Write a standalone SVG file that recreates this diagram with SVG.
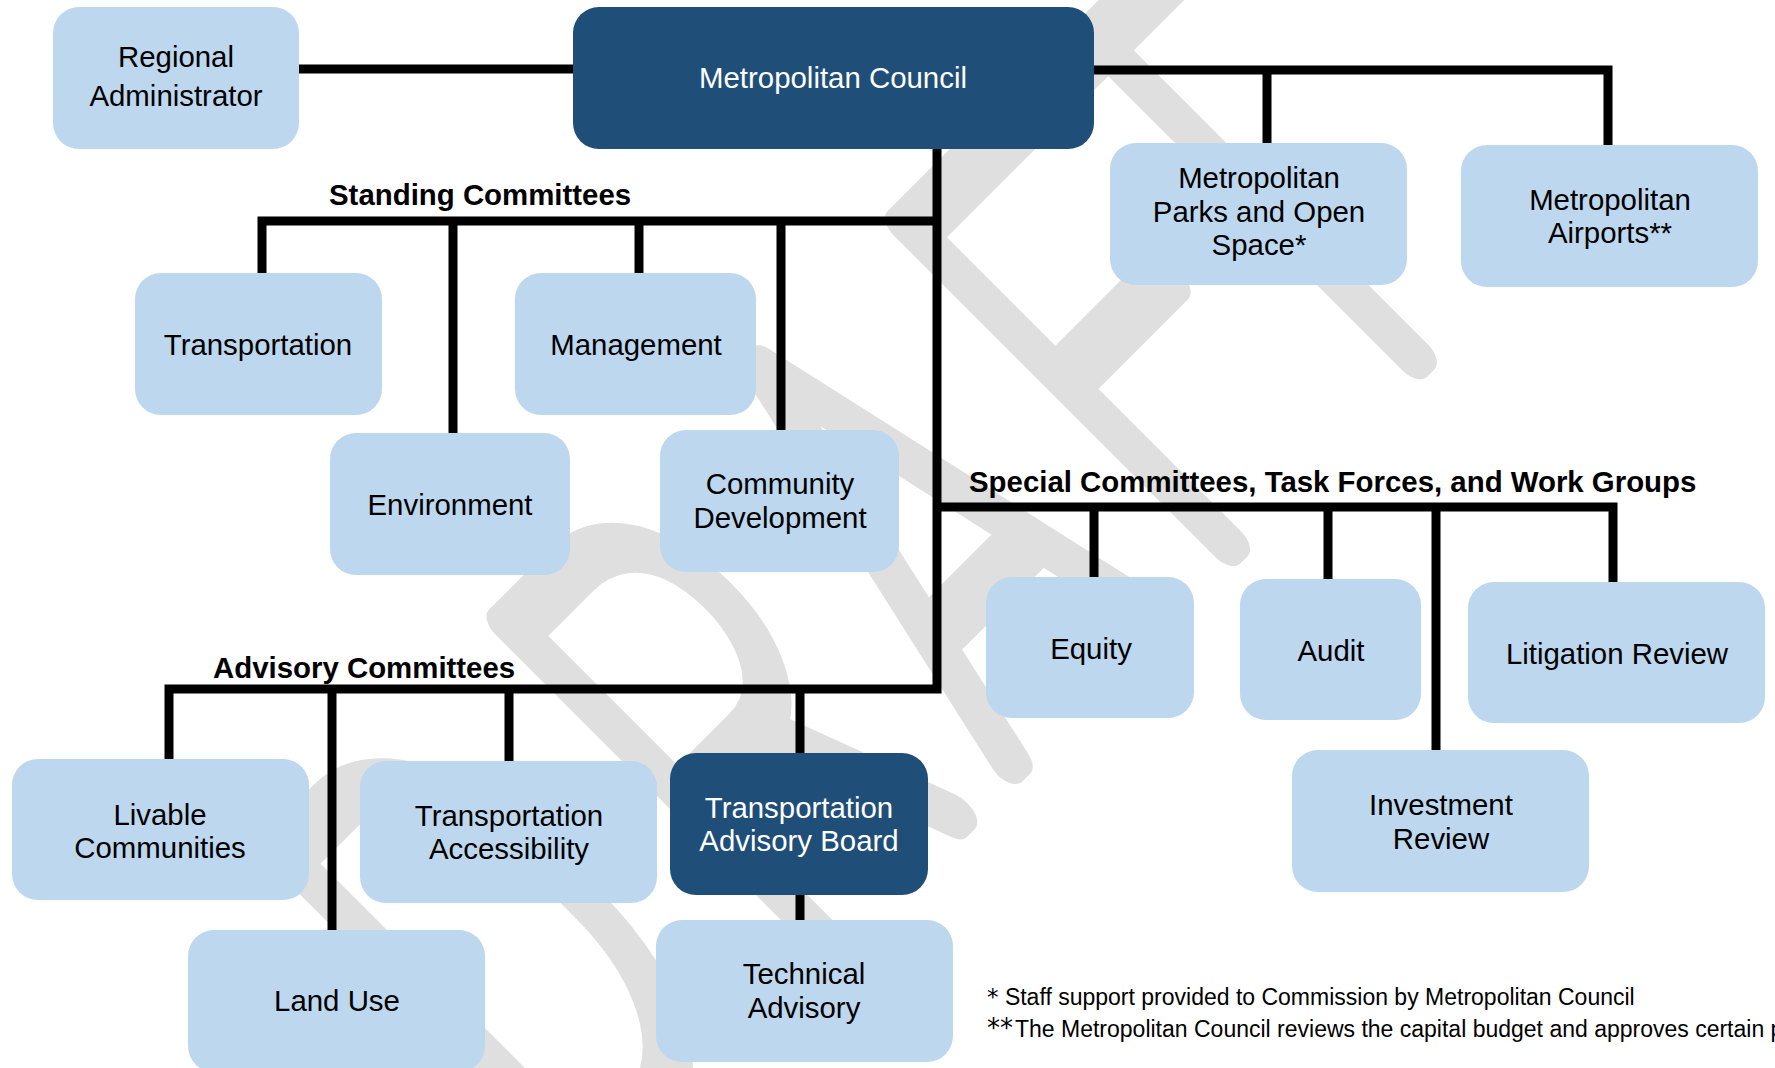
<svg xmlns="http://www.w3.org/2000/svg" width="1775" height="1068" viewBox="0 0 1775 1068">
<style>
.box{fill:#bdd7ee}
.dark{fill:#1f4e79}
.t{font-family:"Liberation Sans",Arial,sans-serif;font-size:29.4px;fill:#000;text-anchor:middle}
.tw{fill:#fff}
.lbl{font-family:"Liberation Sans",Arial,sans-serif;font-size:29.4px;font-weight:bold;fill:#000}
.ln{stroke:#000;stroke-width:9;fill:none;stroke-linejoin:miter}
.fn{font-family:"Liberation Sans",Arial,sans-serif;font-size:23px;fill:#000}
.st{font-family:"DejaVu Sans",sans-serif}
.wm{font-family:Roboto,"DejaVu Sans",sans-serif;font-weight:100;font-size:640px;fill:#dfdfdf;stroke:#dfdfdf;stroke-width:36px;stroke-linejoin:round;stroke-linecap:round;text-anchor:middle}
</style>
<rect width="1775" height="1068" fill="#fff"/>
<g id="watermark" transform="translate(1223,550) rotate(-45)">
<text class="wm" transform="translate(-795,0) scale(0.6,1)" vector-effect="non-scaling-stroke">D</text>
<text class="wm" transform="translate(-472,0) scale(0.6,1)" vector-effect="non-scaling-stroke">R</text>
<text class="wm" transform="translate(-197,0) scale(0.6,1)" vector-effect="non-scaling-stroke">A</text>
<text class="wm" transform="translate(75,0) scale(0.6,1)" vector-effect="non-scaling-stroke">F</text>
<text class="wm" transform="translate(272,0) scale(0.6,1)" vector-effect="non-scaling-stroke">T</text>
</g>
<g id="connectors" class="ln">
<path d="M299,69 H573"/>
<path d="M1094,70 H1608 V145"/>
<path d="M1267,70 V143"/>
<path d="M937,148 V689 H169 V759"/>
<path d="M262,273 V221 H937"/>
<path d="M453,221 V433"/>
<path d="M639,221 V273"/>
<path d="M781,221 V430"/>
<path d="M937,507 H1613 V582"/>
<path d="M1094,507 V577"/>
<path d="M1328,507 V579"/>
<path d="M1436,507 V750"/>
<path d="M332,689 V930"/>
<path d="M509,689 V761"/>
<path d="M800,689 V753"/>
<path d="M800,895 V920"/>
</g>
<g id="labels">
<text class="lbl" x="329" y="205">Standing Committees</text>
<text class="lbl" x="969" y="492">Special Committees, Task Forces, and Work Groups</text>
<text class="lbl" x="213" y="678">Advisory Committees</text>
</g>
<g id="n-regional-administrator"><rect class="box" x="53" y="7" width="246" height="142" rx="26"/><text class="t" x="176" y="67">Regional</text><text class="t" x="176" y="106">Administrator</text></g>
<g id="n-metropolitan-council"><rect class="dark" x="573" y="7" width="521" height="142" rx="26"/><text class="t tw" x="833" y="88">Metropolitan Council</text></g>
<g id="n-parks"><rect class="box" x="1110" y="143" width="297" height="142" rx="26"/><text class="t" x="1259" y="188">Metropolitan</text><text class="t" x="1259" y="222">Parks and Open</text><text class="t" x="1259" y="255">Space*</text></g>
<g id="n-airports"><rect class="box" x="1461" y="145" width="297" height="142" rx="26"/><text class="t" x="1610" y="210">Metropolitan</text><text class="t" x="1610" y="243">Airports**</text></g>
<g id="n-transportation"><rect class="box" x="135" y="273" width="247" height="142" rx="26"/><text class="t" x="258" y="355">Transportation</text></g>
<g id="n-management"><rect class="box" x="515" y="273" width="241" height="142" rx="26"/><text class="t" x="636" y="355">Management</text></g>
<g id="n-environment"><rect class="box" x="330" y="433" width="240" height="142" rx="26"/><text class="t" x="450" y="515">Environment</text></g>
<g id="n-community-development"><rect class="box" x="660" y="430" width="239" height="142" rx="26"/><text class="t" x="780" y="494">Community</text><text class="t" x="780" y="528">Development</text></g>
<g id="n-equity"><rect class="box" x="986" y="577" width="208" height="141" rx="26"/><text class="t" x="1091" y="659">Equity</text></g>
<g id="n-audit"><rect class="box" x="1240" y="579" width="181" height="141" rx="26"/><text class="t" x="1331" y="661">Audit</text></g>
<g id="n-litigation-review"><rect class="box" x="1468" y="582" width="297" height="141" rx="26"/><text class="t" x="1617" y="664">Litigation Review</text></g>
<g id="n-investment-review"><rect class="box" x="1292" y="750" width="297" height="142" rx="26"/><text class="t" x="1441" y="815">Investment</text><text class="t" x="1441" y="849">Review</text></g>
<g id="n-livable-communities"><rect class="box" x="12" y="759" width="297" height="141" rx="26"/><text class="t" x="160" y="825">Livable</text><text class="t" x="160" y="858">Communities</text></g>
<g id="n-transportation-accessibility"><rect class="box" x="360" y="761" width="297" height="142" rx="26"/><text class="t" x="509" y="826">Transportation</text><text class="t" x="509" y="859">Accessibility</text></g>
<g id="n-transportation-advisory-board"><rect class="dark" x="670" y="753" width="258" height="142" rx="26"/><text class="t tw" x="799" y="818">Transportation</text><text class="t tw" x="799" y="851">Advisory Board</text></g>
<g id="n-land-use"><rect class="box" x="188" y="930" width="297" height="142" rx="26"/><text class="t" x="337" y="1011">Land Use</text></g>
<g id="n-technical-advisory"><rect class="box" x="656" y="920" width="297" height="142" rx="26"/><text class="t" x="804" y="984">Technical</text><text class="t" x="804" y="1018">Advisory</text></g>
<g id="footnotes">
<text class="fn" x="987" y="1005"><tspan class="st">*</tspan> Staff support provided to Commission by Metropolitan Council</text>
<text class="fn" x="987" y="1037"><tspan class="st" font-size="26">**</tspan><tspan dx="2">The Metropolitan Council reviews the capital budget and approves certain p</tspan></text>
</g>
</svg>
